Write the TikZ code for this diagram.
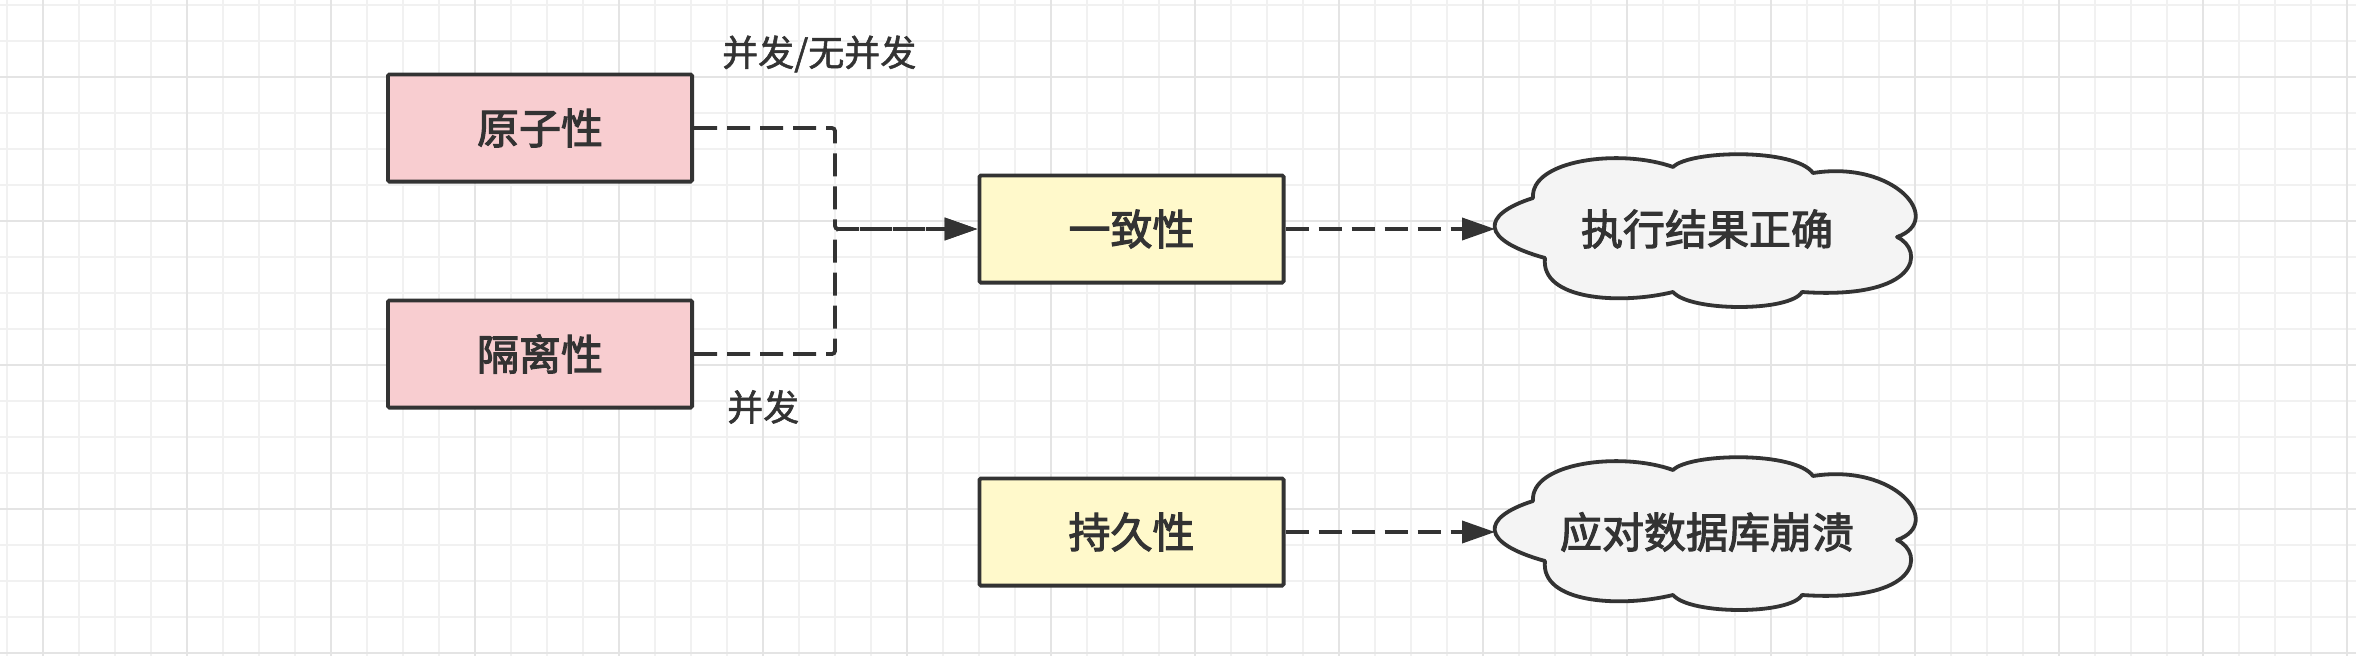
\documentclass[tikz,border=0pt]{standalone}
\usepackage{fontspec}
\newfontfamily\cjk[FakeBold=1.5]{Noto Sans CJK SC}
\newfontfamily\cjkm[FakeBold=2.6]{Noto Sans CJK SC}
\usetikzlibrary{arrows.meta}
\definecolor{ink}{HTML}{333333}
\definecolor{pinkf}{HTML}{F8CDD0}
\definecolor{yellowf}{HTML}{FFF9CB}
\definecolor{cloudf}{HTML}{F4F4F4}
\definecolor{gminor}{HTML}{F1F1F1}
\definecolor{gmajor}{HTML}{E4E4E4}
\tikzset{
  minorgrid/.style={draw=gminor, line width=1.6pt},
  majorgrid/.style={draw=gmajor, line width=1.8pt},
  box/.style={draw=ink, line width=3.8pt, minimum width=304.2pt, minimum height=107.2pt,
    inner sep=0pt, rounded corners=1.5pt, text=ink, font=\cjkm\fontsize{42}{50}\selectfont},
  cloudshape/.style={draw=ink, fill=cloudf, line width=3.8pt, line join=round},
  cloudtext/.style={inner sep=0pt, text=ink, font=\cjkm\fontsize{42}{50}\selectfont},
  lbl/.style={inner sep=0pt, text=ink, font=\cjk\fontsize{36}{44}\selectfont},
  conn/.style={draw=ink, line width=3.8pt, dash pattern=on 23pt off 10pt, rounded corners=3pt},
  tip/.style={-{Triangle[length=33pt,width=22pt]}}
}
\begin{document}
\begin{tikzpicture}[x=1pt,y=-1pt]
\useasboundingbox (0,0) rectangle (2356,656);
\fill[white] (0,0) rectangle (2356,656);
% grid
\foreach \gx in {7,43,...,2356} \draw[minorgrid] (\gx,0) -- (\gx,656);
\foreach \gy in {5,41,...,656} \draw[minorgrid] (0,\gy) -- (2356,\gy);
\foreach \gx in {43,187,...,2356} \draw[majorgrid] (\gx,0) -- (\gx,656);
\foreach \gy in {77,221,...,656} \draw[majorgrid] (0,\gy) -- (2356,\gy);
% boxes
\node[box, fill=pinkf] (atom) at (540,128) {原子性};
\node[box, fill=pinkf] (iso) at (540,354) {隔离性};
\node[box, fill=yellowf] (cons) at (1131.5,229) {一致性};
\node[box, fill=yellowf] (dur) at (1131.5,532) {持久性};
% clouds
\foreach \sy in {0,303} {
  \begin{scope}[shift={(0,\sy)}]
    \draw[cloudshape] (1545,258) .. controls (1480,240) and (1480,215) .. (1533,198)
      .. controls (1530,160) and (1620,148) .. (1673,167)
      .. controls (1690,150) and (1795,148) .. (1813,173)
      .. controls (1895,160) and (1945,220) .. (1897,237)
      .. controls (1925,250) and (1920,300) .. (1802,292)
      .. controls (1790,312) and (1690,312) .. (1673,292)
      .. controls (1620,305) and (1540,300) .. (1545,258) -- cycle;
  \end{scope}
}
\node[cloudtext] (res) at (1707,229) {执行结果正确};
\node[cloudtext] (crash) at (1707,532) {应对数据库崩溃};
\coordinate (resw) at (1495,229);
\coordinate (crashw) at (1495,532);
% labels
\node[lbl, anchor=west] (lab1) at (722,54) {并发/无并发};
\node[lbl, anchor=west] (lab2) at (727,407) {并发};
% connectors
\coordinate (junc) at (835,229);
\draw[conn, tip] (atom.east) -| (junc) -- (cons.west);
\draw[conn, tip] (iso.east) -| (junc) -- (cons.west);
\draw[conn, tip] (cons.east) -- (resw);
\draw[conn, tip] (dur.east) -- (crashw);
\end{tikzpicture}
\end{document}
